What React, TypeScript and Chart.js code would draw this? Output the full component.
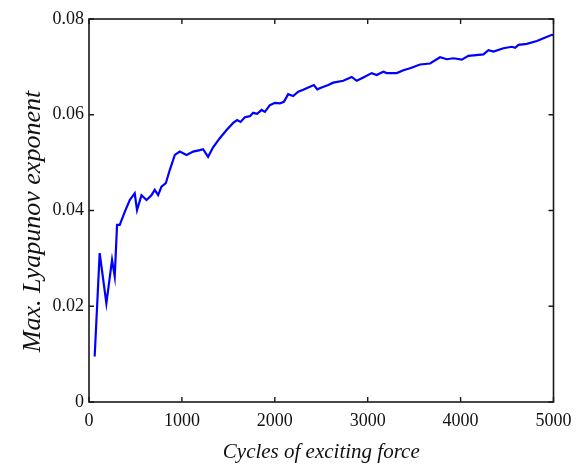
import React, { useEffect, useRef } from "react";
import { Chart, registerables } from "chart.js";

Chart.register(...registerables);

const cycles = [
  61, 115, 187, 248, 277, 302, 331, 385, 439, 492, 517, 565, 619, 672, 708, 744, 780, 827, 870, 924,
  977, 1050, 1121, 1193, 1228, 1282, 1336, 1408, 1481, 1552, 1595, 1631, 1678, 1732, 1767, 1810,
  1858, 1893, 1947, 2001, 2055, 2098, 2144, 2198, 2252, 2306, 2360, 2421, 2457, 2504, 2575, 2629,
  2737, 2828, 2882, 2953, 3043, 3097, 3168, 3205, 3313, 3384, 3456, 3564, 3671, 3779, 3851, 3923,
  4013, 4084, 4246, 4300, 4354, 4461, 4552, 4587, 4623, 4713, 4821, 4892, 4983, 5000,
];
const lyapunov = [
  0.0095, 0.0311, 0.0206, 0.0297, 0.0262, 0.037, 0.037, 0.0397, 0.0422, 0.0436, 0.0401, 0.0432,
  0.0422, 0.0432, 0.0443, 0.0432, 0.045, 0.0457, 0.0485, 0.0516, 0.0523, 0.0516, 0.0523, 0.0526,
  0.0528, 0.0512, 0.0532, 0.0551, 0.0568, 0.0583, 0.0589, 0.0585, 0.0595, 0.0597, 0.0604, 0.0602,
  0.061, 0.0606, 0.062, 0.0625, 0.0624, 0.0627, 0.0643, 0.0639, 0.0648, 0.0652, 0.0657, 0.0662,
  0.0653, 0.0657, 0.0662, 0.0667, 0.0671, 0.0679, 0.0671, 0.0678, 0.0687, 0.0683, 0.069, 0.0687,
  0.0687, 0.0693, 0.0697, 0.0705, 0.0707, 0.072, 0.0716, 0.0718, 0.0715, 0.0723, 0.0726, 0.0735,
  0.0732, 0.0739, 0.0742, 0.074, 0.0746, 0.0748, 0.0754, 0.076, 0.0767, 0.0766,
];
const xTicks = [0, 1000, 2000, 3000, 4000, 5000];
const yTicks = [0, 0.02, 0.04, 0.06, 0.08];
const yTitle = "Max. Lyapunov exponent";

const boxPlugin = {
  id: "matlabBox",
  afterDraw(chart: any) {
    const { ctx, chartArea } = chart;
    const { left, right, top, bottom } = chartArea;
    const xs = chart.scales.x;
    const ys = chart.scales.y;
    ctx.save();
    ctx.strokeStyle = "#1a1a1a";
    ctx.lineWidth = 1.6;
    ctx.strokeRect(left, top, right - left, bottom - top);
    ctx.lineWidth = 1.4;
    const tl = 5;
    ctx.beginPath();
    xTicks.forEach((v) => {
      const px = xs.getPixelForValue(v);
      ctx.moveTo(px, bottom);
      ctx.lineTo(px, bottom - tl);
      ctx.moveTo(px, top);
      ctx.lineTo(px, top + tl);
    });
    yTicks.forEach((v) => {
      const py = ys.getPixelForValue(v);
      ctx.moveTo(left, py);
      ctx.lineTo(left + tl, py);
      ctx.moveTo(right, py);
      ctx.lineTo(right - tl, py);
    });
    ctx.stroke();
    // y axis title
    ctx.translate(33, (top + bottom) / 2 + 11);
    ctx.rotate(-Math.PI / 2);
    ctx.fillStyle = "#111";
    ctx.font = "italic 26px 'Liberation Serif'";
    ctx.textAlign = "center";
    ctx.textBaseline = "middle";
    ctx.fillText(yTitle, 0, 0);
    ctx.restore();
  },
};

export default function App() {
  const ref = useRef<HTMLCanvasElement | null>(null);
  useEffect(() => {
    if (!ref.current) return;
    const chart = new Chart(ref.current, {
      type: "line",
      data: {
        datasets: [
          {
            data: cycles.map((c, i) => ({ x: c, y: lyapunov[i] })),
            borderColor: "#0000ff",
            borderWidth: 2.2,
            pointRadius: 0,
            tension: 0,
            fill: false,
          },
        ],
      },
      options: {
        animation: false,
        responsive: false,
        layout: { padding: { top: 19, right: 27.5, left: 0, bottom: 0 } },
        plugins: { legend: { display: false }, tooltip: { enabled: false } },
        scales: {
          x: {
            type: "linear",
            min: 0,
            max: 5000,
            afterFit: (s: any) => {
              s.height = 64;
            },
            afterBuildTicks: (s: any) => {
              s.ticks = xTicks.map((v) => ({ value: v }));
            },
            grid: { display: false, drawTicks: false },
            border: { display: false },
            ticks: {
              padding: 8,
              color: "#111",
              maxRotation: 0,
              font: { family: "Liberation Serif", size: 18 },
              callback: (v: any) => String(v),
            },
            title: {
              display: true,
              text: "Cycles of exciting force",
              color: "#111",
              padding: { top: 1, bottom: 1 },
              font: { family: "Liberation Serif", size: 21, style: "italic" },
            },
          },
          y: {
            type: "linear",
            min: 0,
            max: 0.08,
            afterFit: (s: any) => {
              s.width = 89;
            },
            afterBuildTicks: (s: any) => {
              s.ticks = yTicks.map((v) => ({ value: v }));
            },
            grid: { display: false, drawTicks: false },
            border: { display: false },
            ticks: {
              padding: 5,
              color: "#111",
              font: { family: "Liberation Serif", size: 18 },
              callback: (v: any) => (v === 0 ? "0" : Number(v).toFixed(2)),
            },
            title: { display: false },
          },
        },
      },
      plugins: [boxPlugin],
    });
    return () => chart.destroy();
  }, []);
  return (
    <div style={{ position: "fixed", left: 0, top: 0, width: 581, height: 466, background: "#fff" }}>
      <canvas ref={ref} width={581} height={466} style={{ display: "block" }} />
    </div>
  );
}
